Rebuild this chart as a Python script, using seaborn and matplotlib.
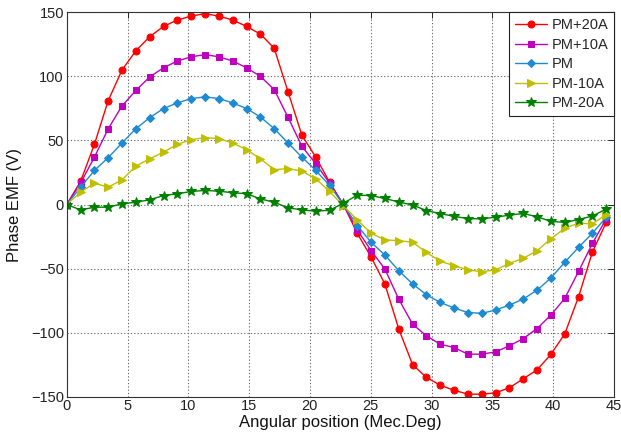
import matplotlib
matplotlib.use("Agg")
import matplotlib.pyplot as plt
import seaborn as sns
import pandas as pd

angle = [0.00, 1.14, 2.28, 3.41, 4.55, 5.69, 6.83, 7.96, 9.10, 10.24,
         11.38, 12.51, 13.65, 14.79, 15.93, 17.06, 18.20, 19.34, 20.48, 21.61,
         22.75, 23.89, 25.03, 26.16, 27.30, 28.44, 29.58, 30.71, 31.85, 32.99,
         34.13, 35.26, 36.40, 37.54, 38.68, 39.81, 40.95, 42.09, 43.23, 44.36]

pm_p20 = [0, 18, 47, 81, 105, 120, 131, 139, 144, 147,
          149, 147, 144, 139, 133, 122, 88, 54, 37, 17.5,
          0, -22.5, -41, -62, -97, -125, -135, -141, -145, -148,
          -148, -147, -143, -136, -129, -117, -101, -72, -37, -14]
pm_p10 = [0, 16.7, 37, 59, 77, 89, 99.6, 106.7, 112, 115.3,
          117, 115.3, 112, 106.7, 100, 89.7, 68, 45.4, 31.8, 16.7,
          0, -19.8, -36, -50.3, -73.8, -93.4, -102.5, -109, -111.6, -116.8,
          -116.8, -115, -110.3, -104.6, -96.8, -86.3, -73.3, -52.2, -30.3, -11.2]
pm_0 = [0, 13.5, 26.6, 36.5, 48, 59.2, 67.8, 74.9, 79.3, 82.7,
        84, 82.7, 79.3, 74.9, 68.3, 59.2, 48, 37, 26.6, 14.9,
        0, -16.4, -29.5, -39.4, -51.6, -62, -70.4, -76.4, -80.8, -84.3,
        -84.9, -82.4, -78.5, -73.8, -66.8, -57.4, -45.1, -33.4, -22.4, -9.9]
pm_m10 = [0, 9.6, 16.7, 13.5, 19.3, 30, 35.7, 40.9, 47, 50.6,
          52.2, 51.4, 48, 42.8, 35.7, 27.2, 28, 26.1, 20.1, 10.2,
          -1, -12, -22.4, -27.6, -28.2, -29.5, -37.3, -44.3, -47.7, -51.1,
          -52.4, -51.1, -45.9, -42, -36, -26.8, -18.5, -14.6, -15.1, -7.8]
pm_m20 = [0, -4.2, -2.1, -2.1, 0.5, 1.8, 3.7, 7, 8.4, 10.2,
          11, 10.4, 9.2, 8.4, 4.4, 1.8, -2.6, -4.2, -5.2, -4.5,
          1, 7.3, 7, 4.7, 2, -0.4, -4.7, -7.1, -9.2, -11,
          -11.2, -9.9, -8.3, -7, -9.6, -13.1, -14, -11.7, -9, -3.5]

labels = ["PM+20A", "PM+10A", "PM", "PM-10A", "PM-20A"]
x_ticks = [0, 5, 10, 15, 20, 25, 30, 35, 40, 45]
y_ticks = [-150, -100, -50, 0, 50, 100, 150]

sns.set_theme(style="white")
plt.rcParams["font.family"] = ["Liberation Sans", "DejaVu Sans"]

fig, ax = plt.subplots(figsize=(6.21, 4.43), dpi=100)
fig.subplots_adjust(left=0.1074, right=0.9887, top=0.9722, bottom=0.1045)

styles = [("#FF0000", "o", 5.0),
          ("#BF00BF", "s", 5.0),
          ("#1E8AD2", "D", 4.2),
          ("#BFBF00", ">", 6.0),
          ("#008000", "*", 7.0)]
data = [pm_p20, pm_p10, pm_0, pm_m10, pm_m20]

for lab, vals, (col, mk, ms) in zip(labels, data, styles):
    df = pd.DataFrame({"angle": angle, "emf": vals})
    sns.lineplot(data=df, x="angle", y="emf", ax=ax, color=col, marker=mk,
                 markersize=ms, markeredgecolor=col, linewidth=1.0,
                 label=lab, errorbar=None, sort=False)

ax.set_xlim(0, 45)
ax.set_ylim(-150, 150)
ax.set_xticks(x_ticks)
ax.set_yticks(y_ticks)
ax.grid(True, linestyle=(0, (1.2, 2)), color="#666666", linewidth=0.75)
ax.tick_params(direction="in", length=4, width=0.7, top=True, right=True,
               labelsize=10.5, colors="#222222", pad=2)
for s in ax.spines.values():
    s.set_color("#333333")
    s.set_linewidth(0.8)

ax.set_xlabel("Angular position (Mec.Deg)", fontsize=12, labelpad=1, color="#111111")
ax.set_ylabel("Phase EMF (V)", fontsize=12, labelpad=6, color="#111111")

leg = ax.legend(loc="upper right", fancybox=False, edgecolor="#222222",
                framealpha=1, fontsize=10.5, borderaxespad=0, handlelength=2.2,
                labelspacing=0.38, handletextpad=0.3, borderpad=0.4)
leg.get_frame().set_linewidth(0.8)

fig.savefig("out.png", dpi=100)
